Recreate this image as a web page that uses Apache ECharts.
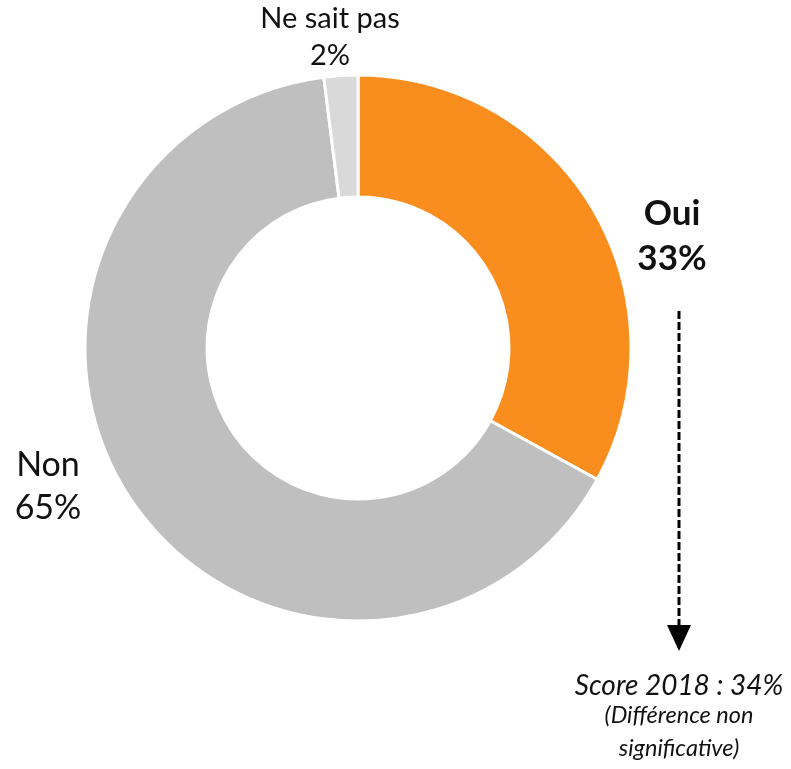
<!DOCTYPE html>
<html>
<head>
<meta charset="utf-8">
<script src="https://cdn.jsdelivr.net/npm/echarts@6/dist/echarts.min.js"></script>
<style>
  html, body { margin: 0; padding: 0; background: #fff; }
  #chart { width: 791px; height: 769px; }
</style>
</head>
<body>
<div id="chart"></div>
<script>
// Answer categories and their shares (%)
const categories = ['Oui', 'Non', 'Ne sait pas'];
const values = [33, 65, 2];
const colors = ['#F98E1E', '#BFBFBF', '#D9D9D9'];

// Comparison with the previous wave
const previousYear = '2018';
const previousScore = 34;
const noteLines = ['(Différence non', 'significative)'];

const FONT = 'Lato, "Open Sans", sans-serif';

// Where each slice label sits (anchor point, centered text)
const labelSpots = [
  { x: 672, y: 236, size: 35, weight: 'bold', lh: 45 },
  { x: 48, y: 487, size: 34, weight: 'normal', lh: 43 },
  { x: 330, y: 37, size: 29, weight: 'normal', lh: 37 }
];

const chart = echarts.init(document.getElementById('chart'));

chart.setOption({
  animation: false,
  series: [{
    type: 'pie',
    center: [358, 348],
    radius: [151, 273],
    startAngle: 90,
    clockwise: true,
    avoidLabelOverlap: false,
    itemStyle: { borderColor: '#fff', borderWidth: 3 },
    labelLine: { show: false },
    label: {
      show: true,
      position: 'outside',
      formatter: p => p.name + '\n' + p.value + '%',
      color: '#111',
      fontFamily: FONT,
      align: 'center'
    },
    labelLayout: p => {
      const s = labelSpots[p.dataIndex];
      return { x: s.x, y: s.y, align: 'center', verticalAlign: 'middle' };
    },
    data: categories.map((c, i) => ({
      name: c,
      value: values[i],
      itemStyle: { color: colors[i] },
      label: {
        fontSize: labelSpots[i].size,
        fontWeight: labelSpots[i].weight,
        lineHeight: labelSpots[i].lh
      }
    }))
  }],
  graphic: [
    {
      type: 'line',
      shape: { x1: 679, y1: 311, x2: 679, y2: 626 },
      style: { stroke: '#000', lineWidth: 3, lineDash: [8, 3] }
    },
    {
      type: 'polygon',
      shape: { points: [[667, 625], [691, 625], [679, 651]] },
      style: { fill: '#000' }
    },
    {
      type: 'text',
      x: 679, y: 686,
      style: {
        text: 'Score ' + previousYear + ' : ' + previousScore + '%',
        fontFamily: FONT, fontStyle: 'italic', fontSize: 28,
        fill: '#111', align: 'center', verticalAlign: 'middle'
      }
    },
    {
      type: 'text',
      x: 679, y: 732,
      style: {
        text: noteLines.join('\n'),
        fontFamily: FONT, fontStyle: 'italic', fontSize: 23.5, lineHeight: 33,
        fill: '#111', align: 'center', verticalAlign: 'middle'
      }
    }
  ]
});
</script>
</body>
</html>
